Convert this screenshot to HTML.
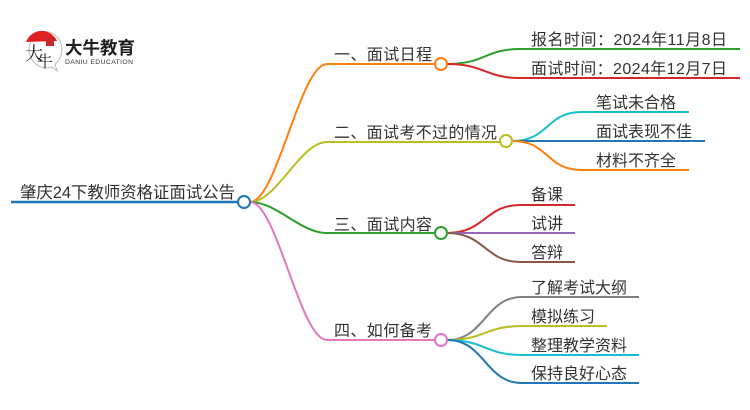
<!DOCTYPE html>
<html><head><meta charset="utf-8">
<style>
html,body{margin:0;padding:0;background:#fff;}
svg{display:block;}
text{font-family:"Liberation Sans","Noto Sans CJK SC",sans-serif;fill:#333;font-size:16px;}
</style></head>
<body>
<svg width="750" height="410" viewBox="0 0 750 410" xmlns="http://www.w3.org/2000/svg">
<!-- logo -->
<g>
  <path d="M41,32 A17,18 0 1 0 52,67 L57,71 L55,64 A17,18 0 0 0 41,32 Z" fill="#fff" stroke="#bbb" stroke-width="1"/>
  <path d="M26,42 A17,18 0 0 1 57,41 Z" fill="#e02020"/>
  <rect x="46" y="37" width="8" height="9" fill="#c8282a"/>
  <text x="25" y="60" style="font-size:18px;fill:#222;font-family:'Noto Serif CJK SC',serif;">大</text>
  <text x="37" y="67" style="font-size:16px;fill:#222;font-family:'Noto Serif CJK SC',serif;">牛</text>
  <text x="65" y="54" style="font-size:17.5px;font-weight:bold;fill:#222;">大牛教育</text>
  <text x="65" y="64" style="font-size:6.8px;fill:#333;" textLength="68">DANIU EDUCATION</text>
</g>

<!-- root -->
<line x1="11" y1="202" x2="238" y2="202" stroke="#1f77b4" stroke-width="2.5"/>
<text x="20" y="198" style="font-size:16.5px" textLength="215">肇庆24下教师资格证面试公告</text>

<g fill="none" stroke-width="2">
  <!-- main branches -->
  <path d="M250,202 C277,202 300,64 327,64 L435,64" stroke="#ff7f0e"/>
  <path d="M250,202 C277,202 300,142 327,142 L500,142" stroke="#bcbd22"/>
  <path d="M250,202 C277,202 300,233 327,233 L435,233" stroke="#2ca02c"/>
  <path d="M250,202 C277,202 300,340 327,340 L435,340" stroke="#e377c2"/>

  <!-- branch 1 subs -->
  <path d="M447,64 C485,64 485,49 520,49 L740,49" stroke="#2ca02c"/>
  <path d="M447,64 C485,64 485,78 520,78 L740,78" stroke="#d62728"/>

  <!-- branch 2 subs -->
  <path d="M512,141 C550,141 545,112 582,112 L689,112" stroke="#17becf"/>
  <path d="M512,141 L705,141" stroke="#1f77b4"/>
  <path d="M512,141 C550,141 545,170 582,170 L689,170" stroke="#ff7f0e"/>

  <!-- branch 3 subs -->
  <path d="M447,233 C485,233 485,205 520,205 L575,205" stroke="#d62728"/>
  <path d="M447,233 L575,233" stroke="#9467bd"/>
  <path d="M447,233 C485,233 485,262 520,262 L575,262" stroke="#8c564b"/>

  <!-- branch 4 subs -->
  <path d="M447,340 C485,340 485,297 522,297 L639,297" stroke="#7f7f7f"/>
  <path d="M447,340 C485,340 485,326 522,326 L607,326" stroke="#bcbd22"/>
  <path d="M447,340 C485,340 485,355 522,355 L639,355" stroke="#17becf"/>
  <path d="M447,340 C485,340 485,383 522,383 L639,383" stroke="#1f77b4"/>
</g>

<!-- circles -->
<g fill="#fff" stroke-width="2">
  <circle cx="244" cy="202" r="6" stroke="#1f77b4"/>
  <circle cx="441" cy="64" r="6" stroke="#ff7f0e"/>
  <circle cx="506" cy="141" r="6" stroke="#bcbd22"/>
  <circle cx="441" cy="233" r="6" stroke="#2ca02c"/>
  <circle cx="441" cy="340" r="6" stroke="#e377c2"/>
</g>

<!-- branch labels -->
<text x="334" y="60" textLength="98">一、面试日程</text>
<text x="334" y="138" textLength="163">二、面试考不过的情况</text>
<text x="334" y="230" textLength="98">三、面试内容</text>
<text x="334" y="336" textLength="98">四、如何备考</text>

<!-- leaves -->
<text x="531" y="45" textLength="196">报名时间：2024年11月8日</text>
<text x="531" y="74" textLength="196">面试时间：2024年12月7日</text>

<text x="596" y="108">笔试未合格</text>
<text x="596" y="137">面试表现不佳</text>
<text x="596" y="166">材料不齐全</text>

<text x="531" y="200">备课</text>
<text x="531" y="229">试讲</text>
<text x="531" y="258">答辩</text>

<text x="531" y="293">了解考试大纲</text>
<text x="531" y="322">模拟练习</text>
<text x="531" y="351">整理教学资料</text>
<text x="531" y="379">保持良好心态</text>
</svg>
</body></html>
